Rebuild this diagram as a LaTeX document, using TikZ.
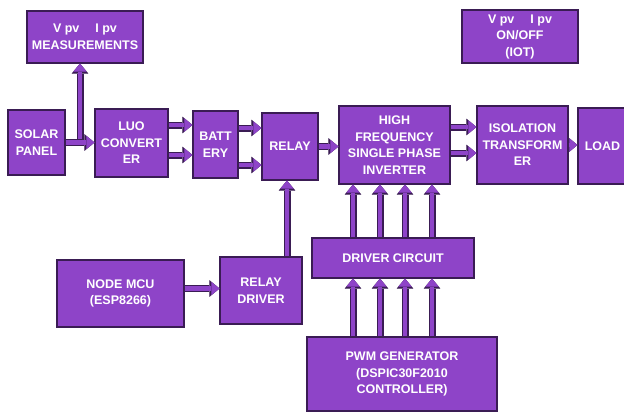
\documentclass[tikz,border=0pt]{standalone}
\usepackage{fontspec}
\setmainfont{Liberation Sans}
\usetikzlibrary{arrows.meta, positioning}
\definecolor{boxviolet}{RGB}{142,68,200}
\definecolor{edgeviolet}{RGB}{58,28,84}

\begin{document}
\begin{tikzpicture}[x=1pt, y=-1pt,
  block/.style={rectangle, draw=edgeviolet, line width=1.2pt, fill=boxviolet, text=white,
    font=\bfseries\fontsize{12.5}{16.5}\selectfont, align=center, inner sep=1pt},
  fat/.style={draw=boxviolet, line width=4.5pt,
    -{Triangle[length=8pt, width=13pt, line width=0.01pt]},
    preaction={draw=edgeviolet, line width=7pt,
      -{Triangle[length=10pt, width=16.5pt, line width=0.01pt]}}},
]
  \useasboundingbox (0,0) rectangle (624,412);
  \fill[white] (0,0) rectangle (624,412);
  \clip (0,0) rectangle (624,412);

  % Measurement and IoT boxes
  \node[block, minimum width=116pt, minimum height=52pt] (meas) at (85,37) {V pv\quad\ I pv\\MEASUREMENTS};
  \node[block, minimum width=116pt, minimum height=53pt] (iot) at (520,36.5) {V pv\quad\ I pv\\ON/OFF\\(IOT)};

  % Power chain
  \node[block, minimum width=57pt, minimum height=65pt] (solar) at (36.5,142.5) {SOLAR\\PANEL};
  \node[block, minimum width=73pt, minimum height=68pt] (luo) at (131.5,143) {LUO\\CONVERT\\ER};
  \node[block, minimum width=45pt, minimum height=67pt] (batt) at (215.5,144.5) {BATT\\ERY};
  \node[block, minimum width=56pt, minimum height=67pt] (relay) at (290,146.5) {RELAY};
  \node[block, minimum width=111pt, minimum height=78pt] (inv) at (394.5,145) {HIGH\\FREQUENCY\\SINGLE PHASE\\INVERTER};
  \node[block, minimum width=91pt, minimum height=78pt] (iso) at (522.5,145) {ISOLATION\\TRANSFORM\\ER};
  \node[block, minimum width=49pt, minimum height=76pt] (load) at (602.5,146) {LOAD};

  % Control side
  \node[block, minimum width=127pt, minimum height=67pt] (mcu) at (120.5,293.5) {NODE MCU\\(ESP8266)};
  \node[block, minimum width=82pt, minimum height=67pt] (rdrv) at (261,290.5) {RELAY\\DRIVER};
  \node[block, minimum width=162pt, minimum height=40pt] (drv) at (393,258) {DRIVER CIRCUIT};
  \node[block, minimum width=190pt, minimum height=74pt] (pwm) at (402,374) {PWM GENERATOR\\(DSPIC30F2010\\CONTROLLER)};

  % Arrows
  \path (solar.east) -- (luo.west) coordinate[midway] (tap);
  \draw[fat] (tap) -- (tap |- meas.south);
  \draw[fat] (solar.east) -- (solar.east -| luo.west);

  \draw[fat] ([yshift=18pt]luo.east) -- ([yshift=18pt]luo.east -| batt.west);
  \draw[fat] ([yshift=-12pt]luo.east) -- ([yshift=-12pt]luo.east -| batt.west);
  \draw[fat] ([yshift=16.5pt]batt.east) -- ([yshift=16.5pt]batt.east -| relay.west);
  \draw[fat] ([yshift=-20.5pt]batt.east) -- ([yshift=-20.5pt]batt.east -| relay.west);
  \draw[fat] (relay.east) -- (relay.east -| inv.west);
  \draw[fat] ([yshift=18pt]inv.east) -- ([yshift=18pt]inv.east -| iso.west);
  \draw[fat] ([yshift=-8pt]inv.east) -- ([yshift=-8pt]inv.east -| iso.west);
  \draw[fat] (iso.east) -- (iso.east -| load.west);

  \draw[fat] ([yshift=5pt]mcu.east) -- ([yshift=5pt]mcu.east -| rdrv.west);
  \draw[fat] ([xshift=-3pt]relay.south |- rdrv.north) -- ([xshift=-3pt]relay.south);

  \foreach \dx in {-40,-13,12,39} {
    \draw[fat] ([xshift=\dx pt]drv.north) -- ([xshift=\dx pt]drv.north |- inv.south);
    \draw[fat] ([xshift=\dx pt]drv.south |- pwm.north) -- ([xshift=\dx pt]drv.south);
  }

\end{tikzpicture}
\end{document}
